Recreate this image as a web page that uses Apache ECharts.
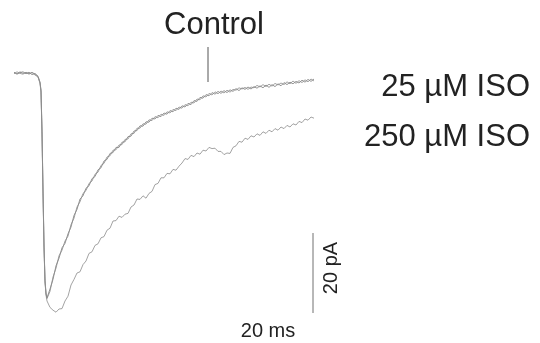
<!DOCTYPE html>
<html>
<head>
<meta charset="utf-8">
<title>ISO traces</title>
<script src="https://cdn.jsdelivr.net/npm/echarts@6/dist/echarts.min.js"></script>
<style>
  html, body { margin: 0; padding: 0; background: #fff; }
  #chart { width: 540px; height: 343px; }
</style>
</head>
<body>
<div id="chart"></div>
<script>
// time (ms) from start of trace
var timeMs = [0, 1, 2, 3, 4, 5, 6, 7, 8, 8.67, 9, 9.33, 9.67, 10, 10.33, 10.67, 11,
  12, 13, 14, 15, 16, 17, 18, 19, 20, 21, 22, 23, 24, 25, 26, 27, 28, 29, 30,
  31, 32, 33, 34, 35, 36, 37, 38, 39, 40, 41, 42, 43, 44, 45, 46, 47, 48, 49, 50,
  51, 52, 53, 54, 55, 56, 57, 58, 59, 60, 61, 62, 63, 64, 65, 66, 67, 68, 69, 70,
  71, 72, 73, 74, 75, 76, 77, 78, 79, 80, 81, 82, 83, 84, 85, 86, 87, 88, 89, 90,
  91, 92, 93, 94, 95, 96, 97, 98, 99, 100];

// current (pA)
var control = [0.2, -0.3, 0.1, 0.3, -0.2, 0.2, -0.4, -0.1, -0.8, -2.3, -4.3, -14.3, -29.3, -43.0, -51.8, -55.0, -56.2,
  -54.0, -51.6, -48.2, -46.3, -43.7, -42.6, -40.2, -38.5, -35.6, -34.1, -31.5, -30.7, -28.8, -28.2, -26.4, -25.9, -24.2, -23.7, -22.0,
  -21.6, -20.1, -19.9, -18.6, -18.6, -17.3, -17.2, -15.9, -15.8, -14.5, -14.4, -13.2, -13.3, -12.2, -12.3, -11.3, -11.5, -10.6, -10.9, -10.0,
  -10.3, -9.4, -9.7, -8.8, -9.1, -8.2, -8.5, -7.6, -7.9, -6.9, -7.1, -6.1, -6.3, -5.4, -5.7, -4.9, -5.3, -4.6, -5.1, -4.4,
  -4.9, -4.2, -4.6, -3.9, -4.4, -3.7, -4.1, -3.5, -4.0, -3.4, -3.8, -3.2, -3.7, -3.0, -3.6, -2.9, -3.4, -2.7, -3.2, -2.4,
  -2.9, -2.3, -2.7, -2.1, -2.5, -1.8, -2.3, -1.6, -2.1, -1.5];

var iso25 = [-0.2, 0.3, -0.1, -0.3, 0.2, -0.2, 0.1, -0.5, -1.0, -2.6, -4.8, -15.0, -30.1, -43.6, -52.2, -55.3, -56.4,
  -54.6, -51.0, -48.8, -45.7, -44.3, -42.0, -40.8, -37.9, -36.3, -33.5, -32.2, -30.1, -29.4, -27.6, -27.0, -25.3, -24.8, -23.1, -22.6,
  -21.0, -20.7, -19.3, -19.2, -18.0, -17.9, -16.6, -16.5, -15.2, -15.1, -13.8, -13.8, -12.7, -12.8, -11.7, -11.9, -10.9, -11.2, -10.3, -10.6,
  -9.7, -10.0, -9.1, -9.4, -8.5, -8.8, -7.9, -8.2, -7.3, -7.5, -6.5, -6.7, -5.7, -6.0, -5.1, -5.5, -4.7, -5.2, -4.5, -5.0,
  -4.3, -4.8, -4.1, -4.3, -3.7, -4.0, -3.6, -4.1, -3.5, -3.7, -3.1, -3.5, -2.9, -3.4, -2.8, -3.3, -2.6, -3.0, -2.5, -2.9,
  -2.2, -2.7, -2.0, -2.6, -1.9, -2.4, -1.7, -2.2, -1.5, -2.0];

var iso250 = [0.1, -0.2, 0.3, -0.1, 0.1, -0.3, 0.2, -0.3, -0.9, -2.4, -4.5, -14.6, -29.7, -43.3, -52.0, -55.5, -57.0,
  -58.6, -59.3, -59.8, -59.0, -58.9, -57.0, -55.8, -53.0, -51.6, -50.0, -49.7, -47.9, -47.0, -45.1, -44.7, -43.1, -42.7, -41.2, -40.9,
  -39.3, -38.8, -37.0, -36.9, -35.8, -36.1, -35.3, -35.1, -33.5, -33.0, -31.5, -31.6, -30.7, -31.3, -30.1, -29.6, -27.9, -27.6, -26.2, -26.2,
  -25.1, -25.2, -24.1, -24.3, -23.3, -22.5, -21.4, -21.6, -20.6, -20.9, -20.0, -20.3, -19.3, -19.5, -18.6, -18.9, -18.8, -19.6, -19.6, -20.4,
  -20.0, -20.1, -18.6, -18.2, -17.1, -17.3, -16.3, -16.6, -15.7, -16.0, -15.2, -15.6, -14.7, -15.1, -14.3, -14.7, -13.9, -14.3, -13.5, -13.9,
  -13.1, -13.5, -12.7, -13.0, -12.1, -12.4, -11.5, -11.8, -11.0, -11.3];

// scale bar (20 pA) and label pointer, in data units
var scaleBarTime = 99.67;
var scaleBarCurrent = [-40, -60];
var pointerTime = 64.67;
var pointerCurrent = [6.5, -2.25];

function pairs(ys) {
  var out = [];
  for (var i = 0; i < timeMs.length; i++) {
    out.push([timeMs[i], ys[i]]);
  }
  return out;
}

var chart = echarts.init(document.getElementById('chart'));

var option = {
  animation: false,
  grid: { left: 14, right: 1, top: 1, bottom: 2 },
  xAxis: { type: 'value', min: 0, max: 175, show: false },
  yAxis: { type: 'value', min: -67, max: 18, show: false },
  series: [
    {
      name: 'Control', type: 'line', data: pairs(control),
      showSymbol: false, lineStyle: { color: '#7a7a7a', width: 0.8 }
    },
    {
      name: '25 µM ISO', type: 'line', data: pairs(iso25),
      showSymbol: false, lineStyle: { color: '#8a8a8a', width: 0.8 }
    },
    {
      name: '250 µM ISO', type: 'line', data: pairs(iso250),
      showSymbol: false, lineStyle: { color: '#8c8c8c', width: 0.8 }
    },
    {
      // 20 pA bar
      type: 'line', showSymbol: false,
      data: [[scaleBarTime, scaleBarCurrent[0]], [scaleBarTime, scaleBarCurrent[1]]],
      lineStyle: { color: '#a0a0a0', width: 1.5 }
    },
    {
      // line from "Control" label to the trace
      type: 'line', showSymbol: false,
      data: [[pointerTime, pointerCurrent[0]], [pointerTime, pointerCurrent[1]]],
      lineStyle: { color: '#555', width: 1 }
    }
  ],
  graphic: [
    {
      type: 'text', x: 214, y: 25,
      style: { text: 'Control', font: '31px "Liberation Sans", Arial, sans-serif', fill: '#222', align: 'center', verticalAlign: 'middle' }
    },
    {
      type: 'text', x: 530, y: 87,
      style: { text: '25 µM ISO', font: '31px "Liberation Sans", Arial, sans-serif', fill: '#222', align: 'right', verticalAlign: 'middle' }
    },
    {
      type: 'text', x: 530, y: 137,
      style: { text: '250 µM ISO', font: '31px "Liberation Sans", Arial, sans-serif', fill: '#222', align: 'right', verticalAlign: 'middle' }
    },
    {
      type: 'text', x: 268, y: 331,
      style: { text: '20 ms', font: '20px "Liberation Sans", Arial, sans-serif', fill: '#222', align: 'center', verticalAlign: 'middle' }
    },
    {
      type: 'text', x: 331, y: 268, rotation: Math.PI / 2,
      style: { text: '20 pA', font: '20px "Liberation Sans", Arial, sans-serif', fill: '#222', align: 'center', verticalAlign: 'middle' }
    }
  ]
};

chart.setOption(option);
</script>
</body>
</html>
